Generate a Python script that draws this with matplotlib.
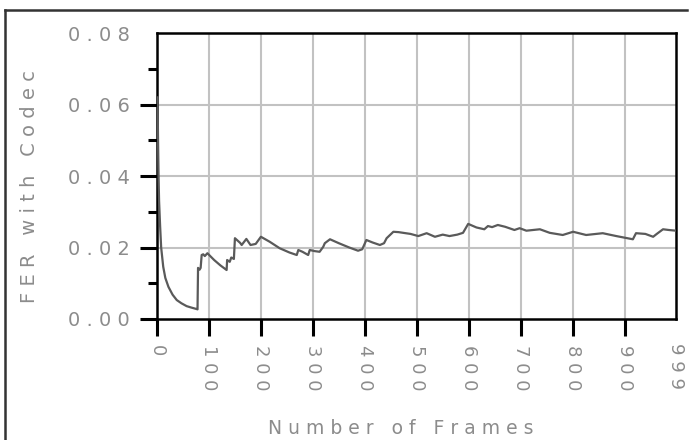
import numpy as np
import matplotlib.pyplot as plt
from matplotlib.lines import Line2D
from matplotlib.ticker import FixedLocator

# Cumulative frame error rate vs. number of simulated frames
frames = [1, 2, 3, 4, 6, 8, 12, 16, 22, 30, 38, 47, 57, 66, 76, 78,
          79, 82, 84, 86, 89, 92, 97, 110, 122, 134, 135, 140, 143, 148,
          150, 160, 163, 172, 180, 190, 200, 217, 236, 255, 269, 272, 280,
          291, 294, 303, 313, 320, 323, 333, 350, 370, 387, 395, 403, 415,
          429, 437, 442, 455, 465, 474, 488, 503, 519, 535, 550, 563, 578,
          589, 599, 615, 630, 637, 645, 656, 670, 688, 698, 711, 737, 756,
          781, 801, 826, 858, 884, 916, 922, 940, 955, 962, 974, 985, 999]
fer = [0.062, 0.050, 0.040, 0.033, 0.026, 0.020, 0.0146, 0.0115, 0.0090,
       0.0068, 0.0053, 0.0044, 0.0036, 0.0032, 0.0028, 0.0027,
       0.0143, 0.0138, 0.0143, 0.0179, 0.0181, 0.0176, 0.0184, 0.0165,
       0.0150, 0.0137, 0.0165, 0.0160, 0.0172, 0.0168,
       0.0226, 0.0213, 0.0207, 0.0224, 0.0207, 0.0210, 0.0230, 0.0216,
       0.0198, 0.0186, 0.0179, 0.0193, 0.0188, 0.0179, 0.0193, 0.0190,
       0.0188, 0.0202, 0.0212, 0.0223, 0.0212, 0.0200, 0.0191, 0.0195,
       0.0221, 0.0214, 0.0207, 0.0212, 0.0226, 0.0244, 0.0243, 0.0241,
       0.0238, 0.0232, 0.0240, 0.0230, 0.0236, 0.0232, 0.0236, 0.0241,
       0.0266, 0.0256, 0.0251, 0.0260, 0.0257, 0.0263, 0.0258, 0.0249,
       0.0254, 0.0247, 0.0251, 0.0241, 0.0235, 0.0244, 0.0235, 0.0240,
       0.0232, 0.0223, 0.0240, 0.0238, 0.0230, 0.0238, 0.0251, 0.0249,
       0.0247]

xticks = [0, 100, 200, 300, 400, 500, 600, 700, 800, 900, 999]
xtick_labels = ['0', '100', '200', '300', '400', '500', '600', '700', '800', '900', '999']
yticks = [0.00, 0.02, 0.04, 0.06, 0.08]
ytick_labels = ['0.00', '0.02', '0.04', '0.06', '0.08']
yminor = [0.01, 0.03, 0.05, 0.07]


def spaced(s):
    return ' '.join(s)


txt_color = '#8c8c8c'
plt.rcParams['font.family'] = 'DejaVu Sans'

fig = plt.figure(figsize=(6.92, 4.4), dpi=100)
ax = fig.add_axes([157 / 692, 121 / 440, 519 / 692, 286 / 440])

ax.plot(frames, fer, color='#5a5a5a', linewidth=1.6, zorder=3)

ax.set_xlim(0, 999)
ax.set_ylim(0, 0.08)

# grid at every 100 frames and every 0.02
for xv in xticks[1:-1]:
    ax.axvline(xv, color='#c2c2c2', linewidth=1.5, zorder=1)
for yv in yticks[1:-1]:
    ax.axhline(yv, color='#c2c2c2', linewidth=1.5, zorder=1)

ax.set_xticks(xticks[:-1])
ax.set_xticklabels([spaced(t) for t in xtick_labels[:-1]], rotation=-90,
                   fontsize=13, color=txt_color, va='top', ha='center')
ax.text(999, -0.0068, spaced(xtick_labels[-1]), rotation=-90, fontsize=13,
        color=txt_color, ha='center', va='top', clip_on=False)
ax.set_yticks(yticks)
ax.set_yticklabels([spaced(t) for t in ytick_labels], fontsize=14, color=txt_color)
ax.yaxis.set_minor_locator(FixedLocator(yminor))

ax.tick_params(axis='both', which='major', direction='out', length=12.5,
               width=2.2, color='black')
ax.tick_params(axis='y', which='major', pad=7)
ax.tick_params(axis='x', which='major', pad=6)
ax.tick_params(axis='y', which='minor', direction='out', length=6.5,
               width=2.2, color='black')
ax.yaxis.get_major_ticks()[-1].tick1line.set_visible(False)

for side in ['top', 'right', 'bottom', 'left']:
    ax.spines[side].set_linewidth(1.8)
    ax.spines[side].set_color('black')

fig.text(30 / 692, 1 - 187 / 440, spaced('FER') + '   ' + spaced('with') + '   ' + spaced('Codec'),
         rotation=90, fontsize=14, color=txt_color, ha='center', va='center')
fig.text(268 / 692, 1 - 428 / 440, spaced('Number') + '   ' + spaced('of') + '   ' + spaced('Frames'),
         fontsize=13.5, color=txt_color, ha='left', va='center')

# outer frame
fig.add_artist(Line2D([5 / 692, 5 / 692], [0, 1 - 10 / 440], color='#333333',
                      linewidth=1.8, transform=fig.transFigure))
fig.add_artist(Line2D([5 / 692, 687 / 692], [1 - 10 / 440, 1 - 10 / 440], color='#333333',
                      linewidth=1.8, transform=fig.transFigure))

fig.savefig('out.png', dpi=100)
